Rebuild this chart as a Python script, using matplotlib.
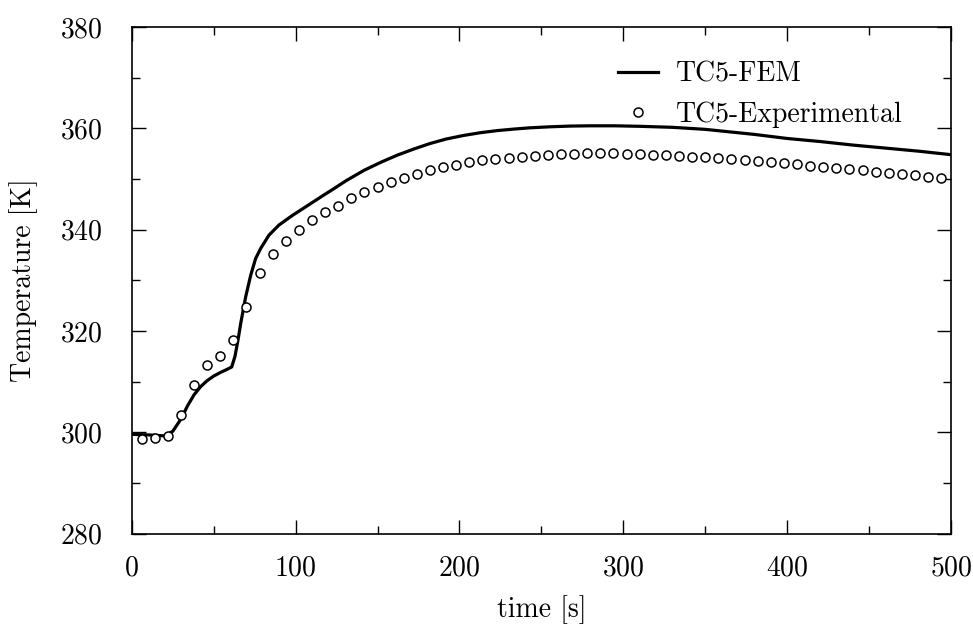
import numpy as np
import matplotlib
matplotlib.use("Agg")
import matplotlib.pyplot as plt
from matplotlib.ticker import MultipleLocator

plt.rcParams['font.family'] = ['cmr10', 'DejaVu Serif']
plt.rcParams['axes.formatter.use_mathtext'] = True
plt.rcParams['font.size'] = 20

# FEM curve
fem_t = [0, 10, 20, 25, 30, 34, 38, 42, 46, 50, 54, 58, 61, 63, 65, 66.5, 69.5,
         72.6, 75.6, 78.7, 83.7, 89.8, 98, 108, 118, 121, 131, 141.7, 152, 162,
         172, 182, 192, 202.6, 213, 223, 233, 243, 255, 268, 280, 295, 310, 330,
         350, 365, 380, 400, 420, 440, 460, 480, 500]
fem_T = [299.6, 299.5, 299.3, 300.2, 302.6, 305.2, 307.4, 309.0, 310.2, 311.1, 311.8,
         312.4, 312.9, 315.0, 318.5, 321.5, 326.7,
         331.0, 334.3, 336.3, 338.9, 340.9, 342.8, 344.9, 347.0, 347.6, 349.7, 351.7,
         353.3, 354.7, 355.9, 357.0, 357.9, 358.6, 359.15, 359.55, 359.85, 360.1,
         360.3, 360.45, 360.5, 360.5, 360.4, 360.2, 359.8, 359.3, 358.8, 358.0,
         357.4, 356.7, 356.1, 355.5, 354.8]

# Experimental points, every 8 s from 6 s
exp_t = [6, 14, 22, 30, 38, 46, 54, 62, 70, 78, 86, 94, 102, 110, 118, 126, 134,
         142, 150, 158, 166, 174, 182, 190, 198, 206, 214, 222, 230, 238, 246, 254,
         262, 270, 278, 286, 294, 302, 310, 318, 326, 334, 342, 350, 358, 366, 374,
         382, 390, 398, 406, 414, 422, 430, 438, 446, 454, 462, 470, 478, 486, 494]
exp_T = [298.6, 298.9, 299.3, 303.5, 309.3, 313.2, 315.1, 318.3, 324.8, 331.5,
         335.1, 337.8, 339.9, 341.9, 343.4, 344.7, 346.2, 347.4, 348.5, 349.4,
         350.2, 351.0, 351.7, 352.3, 352.7, 353.3, 353.7, 353.9, 354.2, 354.4,
         354.6, 354.8, 354.9, 355.0, 355.1, 355.1, 355.1, 355.0, 354.9, 354.8,
         354.7, 354.6, 354.4, 354.3, 354.1, 353.9, 353.7, 353.5, 353.3, 353.1,
         352.9, 352.6, 352.4, 352.2, 351.9, 351.7, 351.4, 351.2, 350.9, 350.7,
         350.4, 350.1]

fig = plt.figure(figsize=(9.73, 6.28), dpi=100)
ax = fig.add_axes([0.1354, 0.1502, 0.8420, 0.8068])

ax.plot(fem_t, fem_T, color='black', lw=2.3, label='TC5-FEM')
ax.plot(exp_t, exp_T, 'o', mfc='white', mec='black', mew=1.1, ms=6.5,
        label='TC5-Experimental')

ax.set_xlim(0, 500)
ax.set_ylim(280, 380)
ax.xaxis.set_major_locator(MultipleLocator(100))
ax.xaxis.set_minor_locator(MultipleLocator(50))
ax.yaxis.set_major_locator(MultipleLocator(20))
ax.yaxis.set_minor_locator(MultipleLocator(10))
ax.tick_params(which='both', direction='in', top=True, right=True, width=1)
ax.tick_params(which='major', length=10)
ax.tick_params(which='minor', length=6)
ax.tick_params(axis='x', which='major', pad=15.5)
ax.tick_params(axis='y', which='major', pad=21)
for s in ax.spines.values():
    s.set_linewidth(1.2)

ax.set_xlabel('time [s]', labelpad=9.5)
ax.set_ylabel('Temperature [K]', labelpad=16)

leg = ax.legend(loc='upper right', bbox_to_anchor=(0.955, 0.954), frameon=False,
                handlelength=1.45, handletextpad=0.65, labelspacing=0.5,
                borderaxespad=0)

fig.savefig('out.png', dpi=100)
